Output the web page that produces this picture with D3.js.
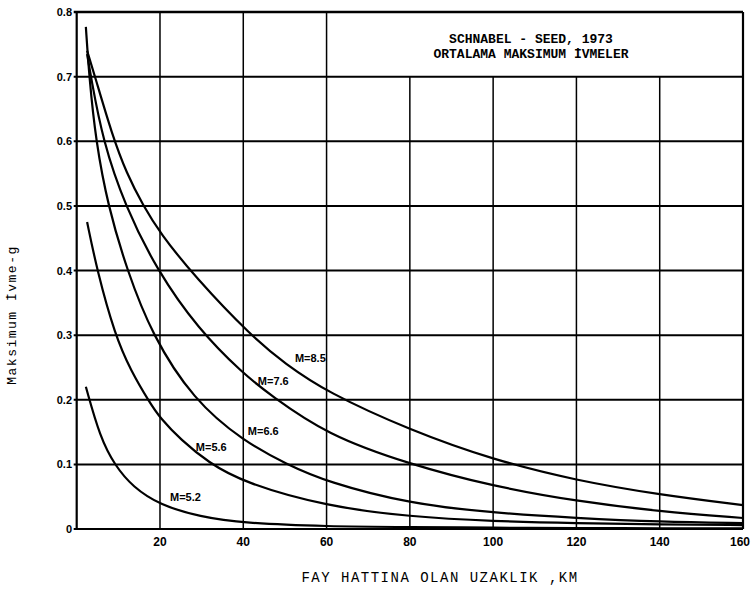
<!DOCTYPE html>
<html>
<head>
<meta charset="utf-8">
<script src="https://cdn.jsdelivr.net/npm/d3@7"></script>
<style>
  body { margin: 0; background: #fff; }
  svg { display: block; }
</style>
</head>
<body>
<svg id="chart" width="751" height="592"></svg>
<script>
// Values (distance km, max acceleration g)
const xTicks = [20, 40, 60, 80, 100, 120, 140, 160];
const yTicks = [0, 0.1, 0.2, 0.3, 0.4, 0.5, 0.6, 0.7, 0.8];
const yTickLabels = ["0", "0.1", "0.2", "0.3", "0.4", "0.5", "0.6", "0.7", "0.8"];

const m85X = [2.5, 4.4, 8.5, 12, 16, 20, 28.4, 42, 50, 60, 80, 100, 120, 140, 160];
const m85Y = [0.74, 0.70, 0.61, 0.55, 0.50, 0.458, 0.39, 0.298, 0.256, 0.212, 0.153, 0.107, 0.075, 0.053, 0.037];

const m76X = [2.5, 3.4, 6.3, 11.6, 19.3, 29.1, 40, 46.4, 60, 80, 100, 120, 140, 160];
const m76Y = [0.735, 0.70, 0.60, 0.50, 0.40, 0.31, 0.24, 0.208, 0.146, 0.100, 0.066, 0.043, 0.027, 0.017];

const m66X = [2.2, 3.0, 4.6, 7.5, 12.1, 18.1, 28, 40, 50.5, 60, 80, 100, 120, 140, 160];
const m66Y = [0.777, 0.70, 0.60, 0.50, 0.40, 0.30, 0.20, 0.136, 0.10, 0.073, 0.039, 0.025, 0.017, 0.011, 0.009];

const m56X = [2.5, 4.9, 9.2, 13, 17.6, 20, 25, 31.6, 40, 60, 80, 100, 120, 140, 160];
const m56Y = [0.475, 0.40, 0.30, 0.245, 0.195, 0.172, 0.138, 0.103, 0.072, 0.035, 0.019, 0.012, 0.009, 0.007, 0.006];

const m52X = [2.2, 5.6, 9.2, 13.5, 20, 29.6, 40, 60, 80, 100, 120, 140, 160];
const m52Y = [0.22, 0.142, 0.098, 0.065, 0.037, 0.019, 0.009, 0.004, 0.003, 0.002, 0.0015, 0.001, 0.001];

const seriesNames = ["M=8.5", "M=7.6", "M=6.6", "M=5.6", "M=5.2"];
const seriesX = [m85X, m76X, m66X, m56X, m52X];
const seriesY = [m85Y, m76Y, m66Y, m56Y, m52Y];
// label anchor (data units) next to each curve
const labelX = [52.4, 43.5, 41.1, 28.6, 22.4];
const labelY = [0.258, 0.223, 0.146, 0.121, 0.043];

const titleLines = ["SCHNABEL - SEED, 1973", "ORTALAMA MAKSIMUM İVMELER"];

let svg = d3.select("#chart");

//Scales
let x = d3.scaleLinear().domain([0, 160]).range([76.7, 743]);
let y = d3.scaleLinear().domain([0, 0.8]).range([529, 12]);

//Horizontal grid lines
svg.append("g")
    .selectAll("line")
    .data(yTicks)
    .enter().append("line")
    .attr("x1", x(0) - 3)
    .attr("x2", x(160))
    .attr("y1", d => y(d))
    .attr("y2", d => y(d))
    .attr("stroke", "#000")
    .attr("stroke-width", d => (d === 0.8 ? 2.6 : 2));

//Vertical grid lines (stop under the title box right of 60 km)
svg.append("g")
    .selectAll("line")
    .data([0].concat(xTicks))
    .enter().append("line")
    .attr("x1", d => x(d))
    .attr("x2", d => x(d))
    .attr("y1", y(0))
    .attr("y2", d => (d > 60 && d < 160 ? y(0.7) : y(0.8)))
    .attr("stroke", "#000")
    .attr("stroke-width", d => (d === 0 || d === 160 ? 2.2 : 1.5));

//Y tick labels
svg.append("g")
    .selectAll("text")
    .data(yTicks)
    .enter().append("text")
    .attr("x", 72)
    .attr("y", d => y(d) + 4)
    .attr("text-anchor", "end")
    .attr("font-family", "Liberation Sans, Arial, sans-serif")
    .attr("font-weight", "bold")
    .attr("font-size", "11px")
    .text((d, i) => yTickLabels[i]);

//X tick labels (last one pulled in so it stays on the page)
svg.append("g")
    .selectAll("text")
    .data(xTicks)
    .enter().append("text")
    .attr("x", d => x(d))
    .attr("dx", d => (d === 160 ? -2 : 0))
    .attr("y", 546)
    .attr("text-anchor", d => (d === 160 ? "end" : "middle"))
    .attr("transform", d => (d === 160 ? "translate(9,0)" : null))
    .attr("font-family", "Liberation Sans, Arial, sans-serif")
    .attr("font-weight", "bold")
    .attr("font-size", "12px")
    .text(d => d);

//Curves
let line = d3.line()
    .x(d => x(d[0]))
    .y(d => y(d[1]))
    .curve(d3.curveBasis);

svg.append("g")
    .selectAll("path")
    .data(seriesX.map((xs, i) => xs.map((v, j) => [v, seriesY[i][j]])))
    .enter().append("path")
    .attr("d", line)
    .attr("fill", "none")
    .attr("stroke", "#000")
    .attr("stroke-width", 2.2)
    .attr("stroke-linejoin", "round");

//Curve labels
svg.append("g")
    .selectAll("text")
    .data(seriesNames)
    .enter().append("text")
    .attr("x", (d, i) => x(labelX[i]))
    .attr("y", (d, i) => y(labelY[i]))
    .attr("font-family", "Liberation Sans, Arial, sans-serif")
    .attr("font-weight", "bold")
    .attr("font-size", "11px")
    .text(d => d);

//Title inside the box
svg.append("g")
    .selectAll("text")
    .data(titleLines)
    .enter().append("text")
    .attr("x", 531)
    .attr("y", (d, i) => 43 + i * 14.5)
    .attr("text-anchor", "middle")
    .attr("font-family", "Liberation Mono, monospace")
    .attr("font-weight", "bold")
    .attr("font-size", "13px")
    .text(d => d);

//Axis titles
svg.append("text")
    .attr("x", 440)
    .attr("y", 582)
    .attr("text-anchor", "middle")
    .attr("font-family", "Liberation Mono, monospace")
    .attr("font-size", "14px")
    .attr("letter-spacing", "1.5px")
    .text("FAY HATTINA OLAN UZAKLIK ,KM");

svg.append("text")
    .attr("transform", "translate(16,315) rotate(-90)")
    .attr("text-anchor", "middle")
    .attr("font-family", "Liberation Mono, monospace")
    .attr("font-size", "13px")
    .attr("letter-spacing", "1.5px")
    .text("Maksimum İvme-g");
</script>
</body>
</html>
